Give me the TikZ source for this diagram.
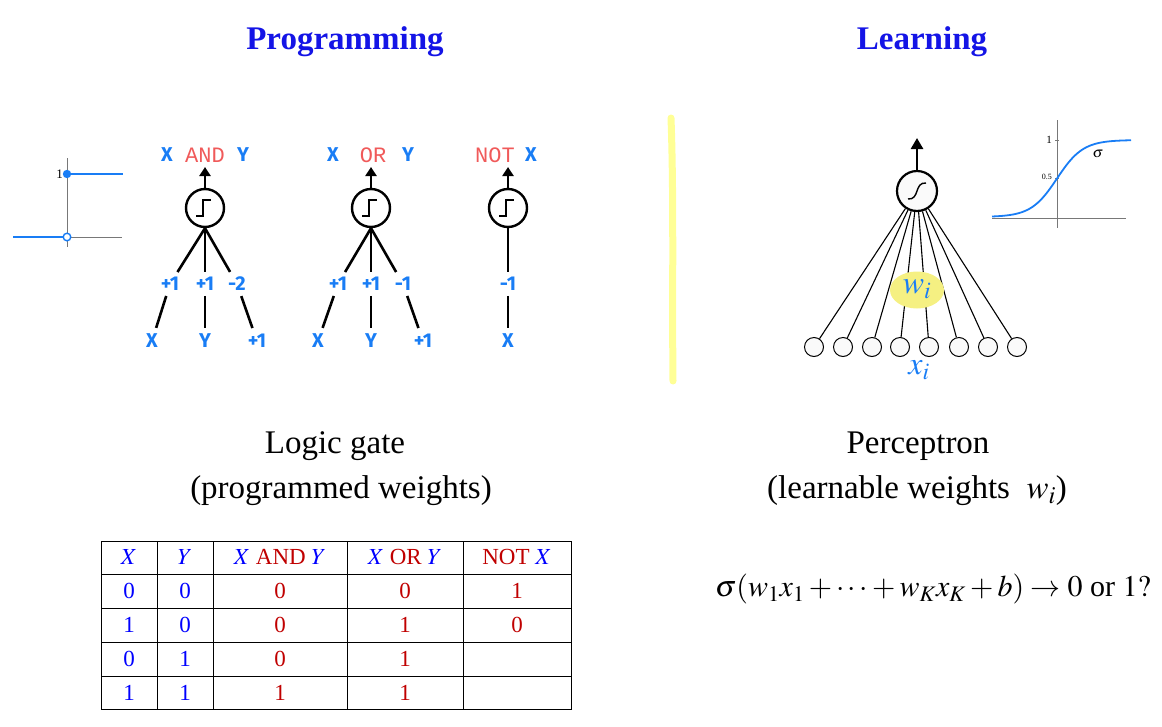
\documentclass[tikz,border=0pt]{standalone}
\usepackage{mathptmx}
\usepackage[no-math]{fontspec}
\setmainfont{Liberation Serif}
\newfontfamily\hw{Fira Sans}
\newfontfamily\mono{Liberation Mono}
\usetikzlibrary{arrows.meta,shapes.geometric}
\definecolor{titleblue}{RGB}{20,20,230}
\definecolor{tblue}{RGB}{0,0,255}
\definecolor{tred}{RGB}{192,0,0}
\definecolor{gblue}{RGB}{25,125,245}
\definecolor{gred}{RGB}{240,90,90}
\definecolor{hilite}{RGB}{255,255,150}
\definecolor{wfill}{RGB}{245,240,130}
\definecolor{axisgray}{RGB}{120,120,120}
\tikzset{
  fs/.style={font=\fontsize{#1}{#1}\selectfont},
  title/.style={text=titleblue,font=\fontsize{33}{36}\selectfont\bfseries},
  caption/.style={font=\fontsize{33}{36}\selectfont},
  gate/.style={circle,draw,line width=2.4pt,minimum size=38pt,inner sep=0pt},
  glabel/.style={text=gblue,font=\fontsize{20}{20}\selectfont\hw\bfseries,inner sep=0pt},
  gop/.style={text=gred,font=\fontsize{22}{22}\selectfont\mono,inner sep=0pt},
  wlabel/.style={text=gblue,font=\fontsize{20}{20}\selectfont\hw\bfseries,inner sep=5pt},
  ilabel/.style={text=gblue,font=\fontsize{20}{20}\selectfont\hw\bfseries,inner sep=6pt},
  gline/.style={line width=2.6pt},
  garrow/.style={line width=2.6pt,-{Triangle[length=9pt,width=11pt]}},
  inp/.style={circle,draw,line width=1pt,fill=black!2,minimum size=19pt,inner sep=0pt},
  neuron/.style={circle,draw,line width=2.2pt,fill=black!2,minimum size=40pt,inner sep=0pt},
  pline/.style={line width=1.1pt},
  cell/.style={font=\fontsize{23}{23}\selectfont,inner sep=0pt},
}
\begin{document}
\begin{tikzpicture}[x=1pt,y=-1pt]
\useasboundingbox (0,0) rectangle (1162,726);

% Titles
\node[title] (tprog) at (345,42) {Programming};
\node[title] (tlearn) at (922,42) {Learning};

% Step function plot
\draw[axisgray,line width=0.9pt] (67,158) -- (67,247);
\draw[axisgray,line width=0.9pt] (67,237) -- (122,237);
\draw[gblue,line width=2.4pt] (13,237) -- (63,237);
\draw[gblue,line width=2.4pt] (67,174) -- (123,174);
\fill[gblue] (67,174) circle (4.2pt);
\draw[gblue,fill=white,line width=1.4pt] (67,237) circle (3.8pt);
\node[fs=13,anchor=east,inner sep=1pt] (one) at (64,174) {1};

% AND gate
\node[gate] (g1) at (205,208) {};
\draw[line width=2.2pt,shift={(g1.center)}] (-9,8) -- (-2,8) -- (-2,-8) -- (6,-8);
\coordinate (a1) at (205,167);
\draw[garrow] (g1.north) -- (a1);
\node[glabel] (g1x) at (167,155) {X};
\node[gop] (g1op) at (205,155) {AND};
\node[glabel] (g1y) at (243,155) {Y};
\node[wlabel] (w11) at (170,284) {+1};
\node[wlabel] (w12) at (205,284) {+1};
\node[wlabel] (w13) at (237,284) {-2};
\node[ilabel] (x11) at (152,341) {X};
\node[ilabel] (x12) at (205,341) {Y};
\node[ilabel] (x13) at (257,341) {+1};
\draw[gline] (g1.south) -- (w11);
\draw[gline] (g1.south) -- (w12);
\draw[gline] (g1.south) -- (w13);
\draw[gline] (w11) -- (x11);
\draw[gline] (w12) -- (x12);
\draw[gline] (w13) -- (x13);

% OR gate
\node[gate] (g2) at (371,208) {};
\draw[line width=2.2pt,shift={(g2.center)}] (-9,8) -- (-2,8) -- (-2,-8) -- (6,-8);
\coordinate (a2) at (371,167);
\draw[garrow] (g2.north) -- (a2);
\node[glabel] (g2x) at (333,155) {X};
\node[gop] (g2op) at (373,155) {OR};
\node[glabel] (g2y) at (408,155) {Y};
\node[wlabel] (w21) at (338,284) {+1};
\node[wlabel] (w22) at (371,284) {+1};
\node[wlabel] (w23) at (403,284) {-1};
\node[ilabel] (x21) at (318,341) {X};
\node[ilabel] (x22) at (371,341) {Y};
\node[ilabel] (x23) at (423,341) {+1};
\draw[gline] (g2.south) -- (w21);
\draw[gline] (g2.south) -- (w22);
\draw[gline] (g2.south) -- (w23);
\draw[gline] (w21) -- (x21);
\draw[gline] (w22) -- (x22);
\draw[gline] (w23) -- (x23);

% NOT gate
\node[gate] (g3) at (508,208) {};
\draw[line width=2.2pt,shift={(g3.center)}] (-9,8) -- (-2,8) -- (-2,-8) -- (6,-8);
\coordinate (a3) at (508,167);
\draw[garrow] (g3.north) -- (a3);
\node[gop] (g3op) at (495,155) {NOT};
\node[glabel] (g3x) at (531,155) {X};
\node[wlabel] (w31) at (508,284) {-1};
\node[ilabel] (x31) at (508,341) {X};
\draw[gline] (g3.south) -- (w31);
\draw[gline] (w31) -- (x31);

% yellow separator
\draw[hilite,line width=7pt,line cap=round] (671,118) .. controls (674,200) and (672,300) .. (673,381);

% Perceptron
\node[neuron] (p) at (917,191) {};
\draw[line width=1.4pt,shift={(p.center)}] (-9,8) .. controls (3,9) and (-3,-9) .. (9,-8);
\coordinate (pa) at (917,138);
\draw[line width=2.6pt,-{Triangle[length=11pt,width=12pt]}] (p.north) -- (pa);
\foreach \i/\xx in {1/814,2/843,3/872,4/900,5/929,6/959,7/988,8/1017}{
  \node[inp] (i\i) at (\xx,347) {};
  \draw[pline] (i\i) -- (p);
}
\node[ellipse,fill=wfill,minimum width=54pt,minimum height=37pt,inner sep=0pt] (wi) at (917,290) {};
\node[text=gblue,fs=32] (witext) at (917,289) {$w_i$};
\node[text=gblue,fs=32] (xi) at (919,370) {$x_i$};

% Sigmoid plot
\draw[axisgray,line width=0.9pt] (1057,120) -- (1057,228);
\draw[axisgray,line width=0.9pt] (992,218) -- (1126,218);
\draw[axisgray,line width=0.6pt] (1055,140) -- (1059,140);
\draw[axisgray,line width=0.6pt] (1055,178) -- (1059,178);
\draw[gblue,line width=1.8pt] plot[domain=992:1131,samples=80,smooth] (\x,{217-77/(1+exp(-(\x-1057)/13))});
\node[fs=11,anchor=east,inner sep=1pt] (s1) at (1053,140) {1};
\node[fs=8,anchor=east,inner sep=1pt] (s05) at (1053,177) {0.5};
\node[fs=15] (ssig) at (1098,154) {$\sigma$};

% captions
\node[caption] (c1) at (335,446) {Logic gate};
\node[caption] (c2) at (341,491) {(programmed weights)};
\node[caption] (c3) at (918,446) {Perceptron};
\node[caption] (c4) at (917,491) {(learnable weights~ $w_i$)};
\node[fs=30] (formula) at (933,589) {$\sigma(w_1x_1+\cdots+w_Kx_K+b)\rightarrow 0\mbox{ or }1?$};

% Table
\draw[line width=0.9pt] (101,541) rectangle (571,709);
\foreach \yy in {574,608,642,676}{\draw[line width=0.9pt] (101,\yy) -- (571,\yy);}
\foreach \xx in {157,213,347,463}{\draw[line width=0.9pt] (\xx,541) -- (\xx,709);}
\node[cell,text=tblue] (h1) at (129,557) {$X$};
\node[cell,text=tblue] (h2) at (185,557) {$Y$};
\node[cell] (h3) at (280,557) {\textcolor{tblue}{$X$} \textcolor{tred}{AND} \textcolor{tblue}{$Y$}};
\node[cell] (h4) at (405,557) {\textcolor{tblue}{$X$} \textcolor{tred}{OR} \textcolor{tblue}{$Y$}};
\node[cell] (h5) at (517,557) {\textcolor{tred}{NOT} \textcolor{tblue}{$X$}};
\node[cell,text=tblue] (r11) at (129,591) {0};
\node[cell,text=tblue] (r12) at (185,591) {0};
\node[cell,text=tred] (r13) at (280,591) {0};
\node[cell,text=tred] (r14) at (405,591) {0};
\node[cell,text=tred] (r15) at (517,591) {1};
\node[cell,text=tblue] (r21) at (129,625) {1};
\node[cell,text=tblue] (r22) at (185,625) {0};
\node[cell,text=tred] (r23) at (280,625) {0};
\node[cell,text=tred] (r24) at (405,625) {1};
\node[cell,text=tred] (r25) at (517,625) {0};
\node[cell,text=tblue] (r31) at (129,659) {0};
\node[cell,text=tblue] (r32) at (185,659) {1};
\node[cell,text=tred] (r33) at (280,659) {0};
\node[cell,text=tred] (r34) at (405,659) {1};
\node[cell,text=tblue] (r41) at (129,693) {1};
\node[cell,text=tblue] (r42) at (185,693) {1};
\node[cell,text=tred] (r43) at (280,693) {1};
\node[cell,text=tred] (r44) at (405,693) {1};
\end{tikzpicture}
\end{document}
